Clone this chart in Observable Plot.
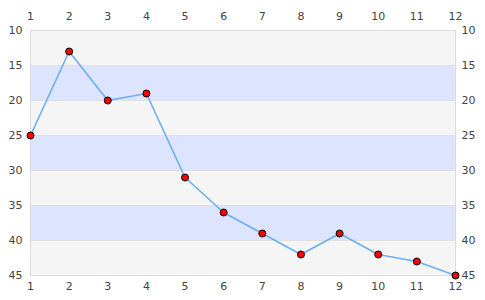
<!DOCTYPE html>
<html><head><meta charset="utf-8">
<script src="https://cdn.jsdelivr.net/npm/d3@7"></script>
<script src="https://cdn.jsdelivr.net/npm/@observablehq/plot@0.6"></script>
<style>body{margin:0;background:#fff}</style>
</head><body><div id="chart"></div>
<script>
const xs = [1,2,3,4,5,6,7,8,9,10,11,12];
const ys = [25,13,20,19,31,36,39,42,39,42,43,45];
const bandStarts = [10,15,20,25,30,35,40];
const bandColors = ["#f5f5f5","#dde4ff"];
const yTicks = [10,15,20,25,30,35,40,45];

const data = xs.map((x,i)=>({x, y: ys[i]}));
const bands = bandStarts.map((s,i)=>({y1:s, y2:s+5, c: bandColors[i%2]}));

const chart = Plot.plot({
  width: 485, height: 300,
  marginLeft: 30, marginRight: 30, marginTop: 30, marginBottom: 25,
  style: {fontFamily: "DejaVu Sans", fontSize: "11px", color: "#444", background: "#fff"},
  x: {domain: [1,12], ticks: xs, tickFormat: d=>d},
  y: {domain: [10,45], reverse: true, ticks: yTicks},
  marks: [
    Plot.rectY(bands, {x1: 1, x2: 12, y1: "y1", y2: "y2", fill: "c"}),
    Plot.ruleY(yTicks, {stroke: "#e0e0e0"}),
    Plot.frame({stroke: "#dcdcdc"}),
    Plot.axisX({anchor: "top", ticks: xs, tickSize: 0, tickPadding: 11, label: null, fill: "#444"}),
    Plot.axisX({anchor: "bottom", ticks: xs, tickSize: 0, tickPadding: 7, label: null, fill: "#444"}),
    Plot.axisY({anchor: "left", ticks: yTicks, tickSize: 0, tickPadding: 8, label: null, fill: "#444"}),
    Plot.axisY({anchor: "right", ticks: yTicks, tickSize: 0, tickPadding: 6, label: null, fill: "#444"}),
    Plot.line(data, {x: "x", y: "y", stroke: "#6aaff2", strokeWidth: 1.6}),
    Plot.dot(data, {x: "x", y: "y", r: 3.5, fill: "red", stroke: "black", strokeWidth: 1})
  ]
});
document.getElementById("chart").appendChild(chart);
</script></body></html>
